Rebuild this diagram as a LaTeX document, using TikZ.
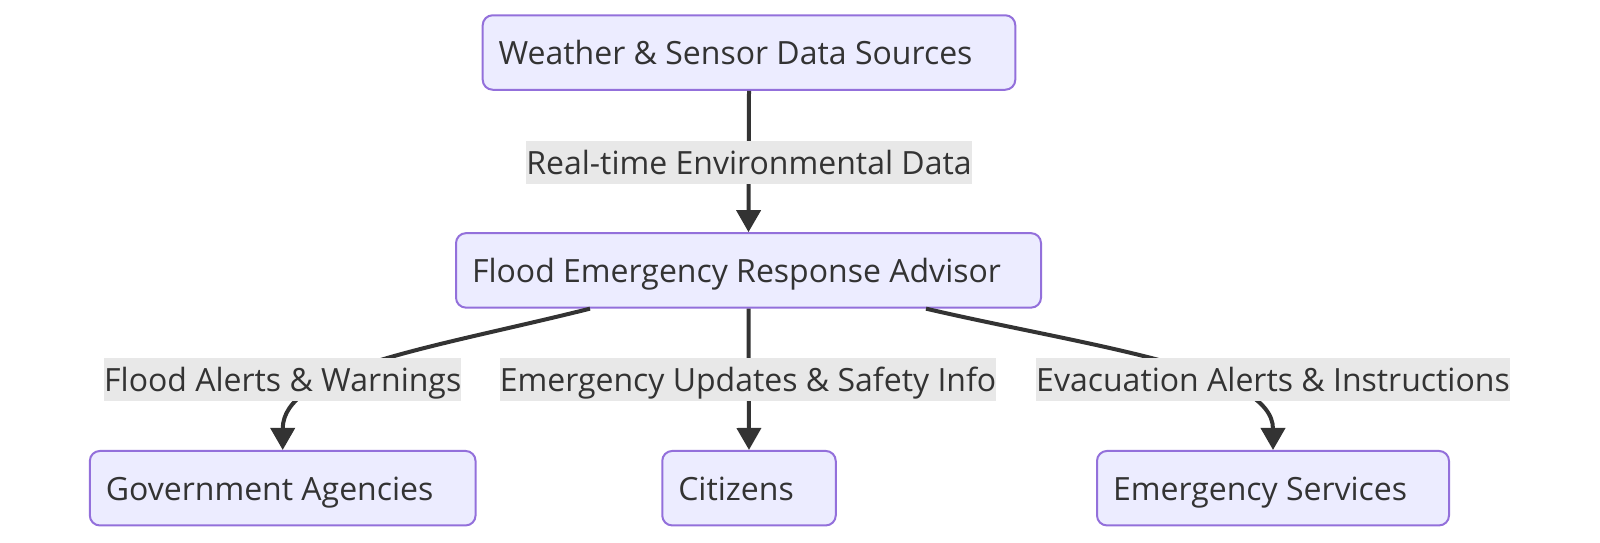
\documentclass[tikz,border=0pt]{standalone}
\usepackage{fontspec}
\setmainfont{Open Sans}
\usetikzlibrary{arrows.meta}
\definecolor{nodefill}{HTML}{ECECFF}
\definecolor{nodeborder}{HTML}{9370DB}
\definecolor{labelbg}{HTML}{E8E8E8}
\definecolor{ink}{HTML}{333333}
\begin{document}
\begin{tikzpicture}[x=1pt,y=-1pt,
  txt/.style={text=ink, font=\fontsize{32}{38}\selectfont, text height=28pt, text depth=4pt},
  box/.style={txt, draw=nodeborder, fill=nodefill, line width=2pt, rounded corners=10pt,
    inner xsep=16pt, inner ysep=0pt, minimum height=74.5pt, align=flush left},
  lab/.style={txt, fill=labelbg, inner sep=0pt, minimum height=43pt},
  conn/.style={draw=ink, line width=4pt, -{Triangle[length=22pt,width=24pt]}}]
\useasboundingbox (0,0) rectangle (1600,542);
% nodes
\node[box, text width=500.6pt] (top) at (749,52.5) {Weather \& Sensor Data Sources};
\node[box, text width=553pt] (mid) at (748.5,270.4) {Flood Emergency Response Advisor};
\node[box, text width=353.7pt] (gov) at (282.7,488.2) {Government Agencies};
\node[box, text width=141.5pt] (cit) at (749,488.2) {Citizens};
\node[box, text width=320pt] (ems) at (1273,488.2) {Emergency Services};
% connector start points
\coordinate (m1) at ([xshift=-158.5pt]mid.south);
\coordinate (m2) at ([xshift=177.5pt]mid.south);
% connectors
\draw[conn] (top.south) -- (mid.north);
\draw[conn] (mid.south) -- (cit.north);
\draw[conn] (m1) .. controls +(-160,40) and +(0,-81) .. (gov.north);
\draw[conn] (m2) .. controls +(164,38) and +(0,-81) .. (ems.north);
% labels
\node[lab] (l1) at (749,162) {Real-time Environmental Data};
\node[lab] (l2) at (282.7,379.6) {Flood Alerts \& Warnings};
\node[lab] (l3) at (748,379.6) {Emergency Updates \& Safety Info};
\node[lab] (l4) at (1273,379.6) {Evacuation Alerts \& Instructions};
\end{tikzpicture}
\end{document}
